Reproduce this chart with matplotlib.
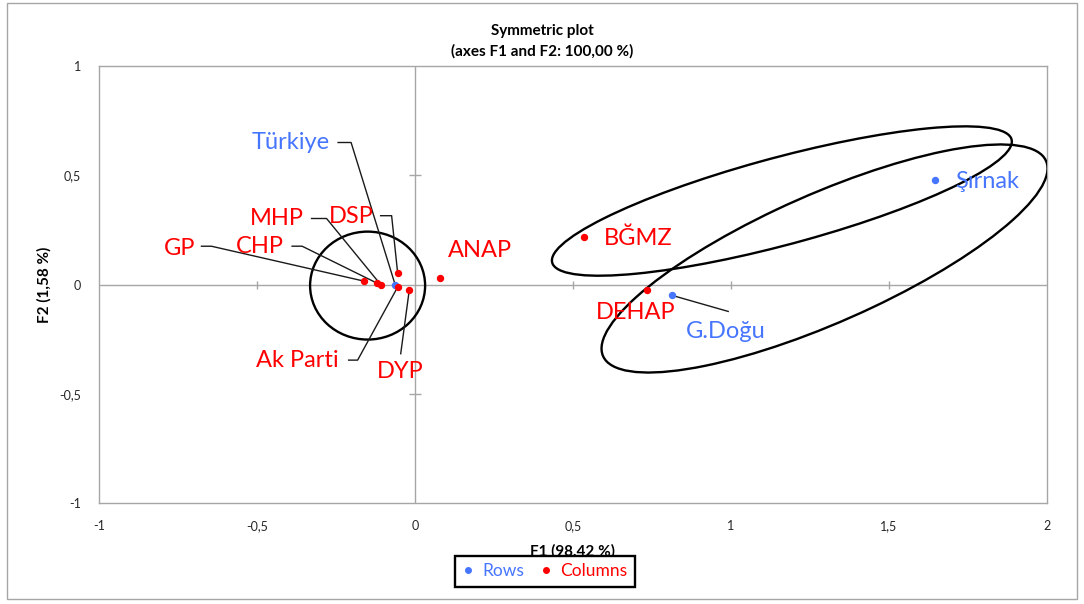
import matplotlib
matplotlib.use('Agg')
import matplotlib.pyplot as plt
from matplotlib.patches import Ellipse, Rectangle
from matplotlib.lines import Line2D

plt.rcParams['font.family'] = ['Lato', 'DejaVu Sans']

# ---------------- data ----------------
row_names = ['Türkiye', 'G.Doğu', 'Şırnak']
row_f1 = [-0.063, 0.814, 1.646]
row_f2 = [0.000, -0.050, 0.476]

col_names = ['Ak Parti', 'ANAP', 'BĞMZ', 'CHP', 'DEHAP', 'DSP', 'DYP', 'GP', 'MHP']
col_f1 = [-0.055, 0.079, 0.536, -0.120, 0.735, -0.055, -0.018, -0.160, -0.109]
col_f2 = [-0.012, 0.031, 0.217, 0.006, -0.027, 0.054, -0.024, 0.015, 0.000]

x_ticks = [-1, -0.5, 0, 0.5, 1, 1.5, 2]
y_ticks = [-1, -0.5, 0, 0.5, 1]

title = 'Symmetric plot\n(axes F1 and F2: 100,00 %)'
x_label = 'F1 (98,42 %)'
y_label = 'F2 (1,58 %)'
legend_labels = ['Rows', 'Columns']

# group outlines (center, width, height, angle) in data units
outlines = [
    ((-0.150, -0.005), 0.364, 0.494, 0.0),
    ((1.161, 0.382), 1.561, 0.386, 21.9),
    ((1.296, 0.119), 1.670, 0.541, 34.4),
]

# ---------------- label layout (screen pixels, y down, relative to point) ----
# name: (ha, text dx, text dy, leader vertices)
layout = {
    'Türkiye': ('right', -65, -142, [(-57, -142), (-44, -142), (0, 0)]),
    'G.Doğu': ('left', 14, 36, [(0, 0), (56, 16)]),
    'Şırnak': ('left', 20, 1, None),
    'Ak Parti': ('right', -59, 73, [(-49, 73), (-40, 73), (0, 0)]),
    'ANAP': ('left', 8, -27, None),
    'BĞMZ': ('left', 19, 1, None),
    'CHP': ('right', -93, -37, [(-85, -37), (-75, -37), (0, 0)]),
    'DEHAP': ('left', -51, 22, None),
    'DSP': ('right', -24, -56, [(-17, -57), (-6, -57), (0, 0)]),
    'DYP': ('center', -9, 82, [(-8.6, 64), (0, 0)]),
    'GP': ('right', -169, -33, [(-163, -35), (-153, -35), (0, 0)]),
    'MHP': ('right', -77, -66, [(-69, -66), (-54, -66), (0, 0)]),
}

blue = '#4675ff'
red = '#ff0000'
grey = '#a6a6a6'


def fmt(v):
    return ('%g' % v).replace('.', ',')


W, H = 1084, 604
fig = plt.figure(figsize=(W / 100, H / 100), dpi=100)
fig.patch.set_facecolor('white')
ax = fig.add_axes([99 / W, (H - 503) / H, 948 / W, 437 / H])
ax.set_xlim(x_ticks[0], x_ticks[-1])
ax.set_ylim(y_ticks[0], y_ticks[-1])
ax.set_xticks(x_ticks)
ax.set_xticklabels([fmt(v) for v in x_ticks])
ax.set_yticks(y_ticks)
ax.set_yticklabels([fmt(v) for v in y_ticks])
ax.tick_params(axis='both', length=0, labelsize=9, colors='#262626')
ax.tick_params(axis='x', pad=12)
ax.tick_params(axis='y', pad=13)
for s in ax.spines.values():
    s.set_color(grey)
    s.set_linewidth(1.0)

# zero axes with tick marks
ax.axhline(0, color=grey, lw=1.0, zorder=1)
ax.axvline(0, color=grey, lw=1.0, zorder=1)
xt_inner = [v for v in x_ticks if v not in (0, x_ticks[0], x_ticks[-1])]
yt_inner = [v for v in y_ticks if v not in (0, y_ticks[0], y_ticks[-1])]
ax.plot(xt_inner, [0] * len(xt_inner), ls='none', marker='|', ms=6, mew=1.0, color=grey, zorder=1)
ax.plot([0] * len(yt_inner), yt_inner, ls='none', marker='_', ms=8, mew=1.0, color=grey, zorder=1)

# group outlines
for (c, w, h, a) in outlines:
    ax.add_patch(Ellipse(c, w, h, angle=a, fill=False, ec='black', lw=1.7, zorder=3))

# points
ax.plot(row_f1, row_f2, ls='none', marker='o', ms=4.3, color=blue, zorder=6)
ax.plot(col_f1, col_f2, ls='none', marker='o', ms=4.3, color=red, zorder=6)


def off_to_data(x, y, dx, dy):
    px, py = ax.transData.transform((x, y))
    return ax.transData.inverted().transform((px + dx, py - dy))


def place(names, xs, ys, color):
    for n, x, y in zip(names, xs, ys):
        ha, tdx, tdy, verts = layout[n]
        ax.annotate(n, (x, y), xytext=(tdx, -tdy), textcoords='offset pixels',
                    ha=ha, va='center', color=color, fontsize=17, zorder=7)
        if verts:
            pts = [off_to_data(x, y, dx, dy) for dx, dy in verts]
            ax.plot([p[0] for p in pts], [p[1] for p in pts], color='#1a1a1a',
                    lw=1.0, zorder=4)


place(row_names, row_f1, row_f2, blue)
place(col_names, col_f1, col_f2, red)

# axis labels
ax.set_xlabel(x_label, fontsize=11, fontweight='bold', va='center')
ax.xaxis.set_label_coords(0.5, (503 - 551) / 437)
ax.set_ylabel(y_label, fontsize=11, fontweight='bold', va='center')
ax.yaxis.set_label_coords((44 - 99) / 948, 0.5)

# title
fig.text(0.5, 1 - 41.5 / H, title, ha='center', va='center', fontsize=11,
         fontweight='bold', linespacing=1.55)

# legend
handles = [Line2D([], [], ls='none', marker='o', ms=4, color=blue),
           Line2D([], [], ls='none', marker='o', ms=4, color=red)]
leg = fig.legend(handles, legend_labels, loc='center',
                 bbox_to_anchor=(455 / W, (H - 590) / H, 180 / W, 37 / H),
                 mode='expand', ncol=2, frameon=True, fancybox=False,
                 edgecolor='black', framealpha=1, fontsize=12.5,
                 handlelength=0.6, handletextpad=0.5, columnspacing=1.0,
                 borderpad=0.45, borderaxespad=0)
leg.get_frame().set_linewidth(1.7)
for t, c in zip(leg.get_texts(), [blue, red]):
    t.set_color(c)

# outer chart frame
fig.patches.append(Rectangle((7 / W, (H - 599) / H), 1070 / W, 596 / H,
                             transform=fig.transFigure, fill=False,
                             ec=grey, lw=1.0))

fig.savefig('out.png', dpi=100)
